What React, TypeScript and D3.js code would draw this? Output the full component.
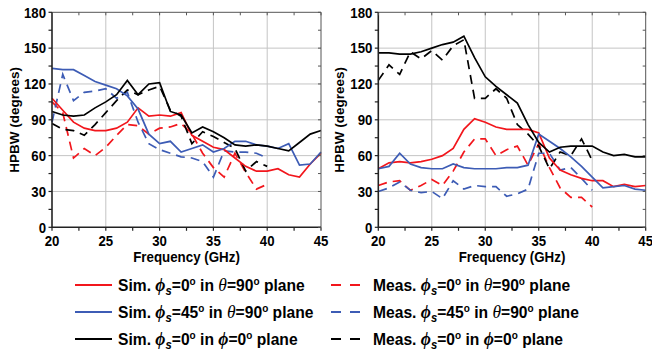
import React from 'react';
import * as d3 from 'd3';

// ---------- data ----------
const FREQ_SIM = [20, 21, 22, 23, 24, 25, 26, 27, 28, 29, 30, 31, 32, 33, 34, 35, 36, 37, 38, 39, 40, 41, 42, 43, 44, 45];
const FREQ_MEAS = [20, 21, 22, 23, 24, 25, 26, 27, 28, 29, 30, 31, 32, 33, 34, 35, 36, 37, 38, 39, 40];

// left panel
const L_SIM_RED = [108, 98, 88, 83, 81, 81, 83, 88, 100, 93, 94, 93, 96, 77, 72, 67, 65, 58, 51, 47, 47, 49, 44, 42, 53, 62];
const L_SIM_BLUE = [133, 132, 132, 127, 122, 119, 116, 110, 99, 78, 70, 72, 63, 66, 69, 63, 66, 72, 72, 69, 68, 66, 70, 52, 53, 63];
const L_SIM_BLACK = [97, 94, 93, 94, 100, 105, 111, 123, 111, 120, 121, 97, 94, 79, 84, 80, 75, 69, 68, 69, 68, 66, 64, 71, 78, 81];
const L_MEAS_RED = [105, 96, 58, 66, 60, 67, 77, 86, 85, 78, 83, 84, 87, 78, 62, 50, 42, 62, 46, 32, 36];
const L_MEAS_BLUE = [88, 128, 106, 113, 114, 116, 108, 113, 88, 70, 65, 62, 59, 58, 55, 42, 64, 63, 63, 62, 58];
const L_MEAS_BLACK = [87, 82, 81, 77, 86, 96, 106, 115, 111, 115, 118, 98, 93, 70, 80, 76, 71, 66, 47, 55, 51];

// right panel
const R_SIM_RED = [49, 54, 55, 54, 55, 57, 60, 66, 82, 91, 88, 84, 82, 82, 82, 79, 58, 48, 44, 41, 39, 39, 34, 36, 34, 35];
const R_SIM_BLUE = [49, 51, 62, 53, 50, 49, 49, 53, 50, 49, 49, 49, 50, 50, 52, 78, 72, 66, 59, 51, 42, 33, 34, 35, 32, 31];
const R_SIM_BLACK = [146, 146, 145, 145, 147, 150, 153, 155, 160, 142, 126, 118, 111, 104, 86, 71, 63, 67, 68, 68, 68, 63, 60, 61, 59, 59];
const R_MEAS_RED = [35, 38, 39, 31, 35, 40, 35, 47, 63, 74, 74, 60, 65, 68, 52, 70, 50, 33, 25, 25, 17];
const R_MEAS_BLUE = [30, 33, 38, 31, 29, 30, 24, 39, 32, 35, 34, 34, 26, 28, 32, 62, 62, 48, 50, 41, 31];
const R_MEAS_BLACK = [123, 136, 128, 147, 141, 148, 140, 152, 157, 108, 108, 116, 108, 86, 78, 68, 49, 63, 60, 74, 56];

const X_TICKS = [20, 25, 30, 35, 40, 45];
const Y_TICKS = [0, 30, 60, 90, 120, 150, 180];
const X_MINOR = [20, 22.5, 25, 27.5, 30, 32.5, 35, 37.5, 40, 42.5, 45];
const Y_MINOR = [0, 15, 30, 45, 60, 75, 90, 105, 120, 135, 150, 165, 180];
const X_LABEL = 'Frequency (GHz)';
const Y_LABEL = 'HPBW (degrees)';

const RED = '#f2161c';
const BLUE = '#3d5cb5';
const BLACK = '#000000';

const TOP = 12.3;
const BOTTOM = 227.3;
const SQ = 0.88; // horizontal squeeze of text
const DASH = '9,6';

type Series = { f: number[]; v: number[]; color: string; dashed: boolean };

function Panel({ left, right, ylabX, series }: { left: number; right: number; ylabX: number; series: Series[] }) {
  const x = d3.scaleLinear().domain([20, 45]).range([left, right]);
  const y = d3.scaleLinear().domain([0, 180]).range([BOTTOM, TOP]);
  const line = d3
    .line<[number, number]>()
    .x((d) => x(d[0]))
    .y((d) => y(d[1]));
  return (
    <g>
      {/* grid */}
      {X_TICKS.slice(1, -1).map((t) => (
        <line key={'gx' + t} x1={x(t)} x2={x(t)} y1={TOP} y2={BOTTOM} stroke="#c4c4c4" strokeWidth={1} />
      ))}
      {Y_TICKS.slice(1, -1).map((t) => (
        <line key={'gy' + t} x1={left} x2={right} y1={y(t)} y2={y(t)} stroke="#c4c4c4" strokeWidth={1} />
      ))}
      {/* series */}
      {series.map((s, i) => (
        <path
          key={i}
          d={line(s.f.map((f, j) => [f, s.v[j]] as [number, number])) || ''}
          fill="none"
          stroke={s.color}
          strokeWidth={1.7}
          strokeDasharray={s.dashed ? DASH : undefined}
          strokeLinejoin="miter"
        />
      ))}
      {/* frame */}
      <line x1={left} x2={right} y1={TOP} y2={TOP} stroke="#555" strokeWidth={1} />
      <line x1={right} x2={right} y1={TOP} y2={BOTTOM} stroke="#555" strokeWidth={1} />
      <line x1={left} x2={left} y1={TOP} y2={BOTTOM + 0.5} stroke="#222" strokeWidth={1.6} />
      <line x1={left} x2={right} y1={BOTTOM} y2={BOTTOM} stroke="#222" strokeWidth={1.6} />
      {/* ticks */}
      {X_MINOR.map((t) => (
        <g key={'tx' + t}>
          <line x1={x(t)} x2={x(t)} y1={BOTTOM} y2={BOTTOM + 3.5} stroke="#222" strokeWidth={1.2} />
          <line x1={x(t)} x2={x(t)} y1={TOP} y2={TOP + 3} stroke="#555" strokeWidth={1} />
        </g>
      ))}
      {Y_MINOR.map((t) => (
        <g key={'ty' + t}>
          <line x1={left - 3.5} x2={left} y1={y(t)} y2={y(t)} stroke="#222" strokeWidth={1.2} />
          <line x1={right - 3} x2={right} y1={y(t)} y2={y(t)} stroke="#555" strokeWidth={1} />
        </g>
      ))}
      {/* tick labels */}
      {X_TICKS.map((t) => (
        <text
          key={'lx' + t}
          transform={`translate(${x(t)},246) scale(${SQ},1)`}
          textAnchor="middle"
          fontSize={15}
          fontWeight="bold"
        >
          {String(t)}
        </text>
      ))}
      {Y_TICKS.map((t) => (
        <text
          key={'ly' + t}
          transform={`translate(${left - 6},${y(t) + 5.3}) scale(${SQ},1)`}
          textAnchor="end"
          fontSize={15}
          fontWeight="bold"
        >
          {String(t)}
        </text>
      ))}
      <text
        transform={`translate(${(left + right) / 2},261.5) scale(0.92,1)`}
        textAnchor="middle"
        fontSize={14.5}
        fontWeight="bold"
      >
        {X_LABEL}
      </text>
      <text
        transform={`translate(${ylabX},${(TOP + BOTTOM) / 2}) scale(${SQ},1) rotate(-90)`}
        textAnchor="middle"
        fontSize={13.5}
        fontWeight="bold"
        dy="0.35em"
      >
        {Y_LABEL}
      </text>
    </g>
  );
}

const GREEK = "'Liberation Serif', 'DejaVu Serif', serif";
const LEG_ROWS = [285, 312, 339];
const LEG_COLORS = [RED, BLUE, BLACK];
const LEG_PHIS = ['0', '45', '0'];
const LEG_PLANE = ['theta', 'theta', 'phi'];

function LegendText({ kind, phiS, plane }: { kind: string; phiS: string; plane: string }) {
  const isTheta = plane === 'theta';
  return (
    <>
      <tspan>{kind + ' '}</tspan>
      <tspan fontFamily={GREEK} fontStyle="italic" fontWeight="bold" fontSize="112%">
        {'\u03D5'}
      </tspan>
      <tspan fontStyle="italic" fontSize="72%" dy={3.5}>
        s
      </tspan>
      <tspan dy={-3.5}>{'=' + phiS}</tspan>
      <tspan fontSize="64%" dy={-6.5}>
        o
      </tspan>
      <tspan dy={6.5}>{' in '}</tspan>
      <tspan
        fontFamily={GREEK}
        fontStyle="italic"
        fontWeight={isTheta ? 'normal' : 'bold'}
        fontSize="112%"
      >
        {isTheta ? '\u03B8' : '\u03D5'}
      </tspan>
      <tspan>{isTheta ? '=90' : '=0'}</tspan>
      <tspan fontSize="64%" dy={-6.5}>
        o
      </tspan>
      <tspan dy={6.5}>{' plane'}</tspan>
    </>
  );
}

function Legend() {
  return (
    <g>
      {LEG_ROWS.map((yy, i) => (
        <g key={i}>
          <line x1={75} x2={112} y1={yy} y2={yy} stroke={LEG_COLORS[i]} strokeWidth={1.8} />
          <text transform={`translate(118,${yy + 6}) scale(0.92,1)`} fontSize={17} fontWeight="bold">
            <LegendText kind="Sim." phiS={LEG_PHIS[i]} plane={LEG_PLANE[i]} />
          </text>
          <line x1={331} x2={360} y1={yy} y2={yy} stroke={LEG_COLORS[i]} strokeWidth={1.8} strokeDasharray="10,9" />
          <text transform={`translate(373,${yy + 6}) scale(0.92,1)`} fontSize={17} fontWeight="bold">
            <LegendText kind="Meas." phiS={LEG_PHIS[i]} plane={LEG_PLANE[i]} />
          </text>
        </g>
      ))}
    </g>
  );
}

export default function App() {
  const leftSeries: Series[] = [
    { f: FREQ_MEAS, v: L_MEAS_RED, color: RED, dashed: true },
    { f: FREQ_MEAS, v: L_MEAS_BLUE, color: BLUE, dashed: true },
    { f: FREQ_MEAS, v: L_MEAS_BLACK, color: BLACK, dashed: true },
    { f: FREQ_SIM, v: L_SIM_RED, color: RED, dashed: false },
    { f: FREQ_SIM, v: L_SIM_BLUE, color: BLUE, dashed: false },
    { f: FREQ_SIM, v: L_SIM_BLACK, color: BLACK, dashed: false },
  ];
  const rightSeries: Series[] = [
    { f: FREQ_MEAS, v: R_MEAS_RED, color: RED, dashed: true },
    { f: FREQ_MEAS, v: R_MEAS_BLUE, color: BLUE, dashed: true },
    { f: FREQ_MEAS, v: R_MEAS_BLACK, color: BLACK, dashed: true },
    { f: FREQ_SIM, v: R_SIM_RED, color: RED, dashed: false },
    { f: FREQ_SIM, v: R_SIM_BLUE, color: BLUE, dashed: false },
    { f: FREQ_SIM, v: R_SIM_BLACK, color: BLACK, dashed: false },
  ];
  return (
    <svg
      width={652}
      height={353}
      style={{ position: 'absolute', left: 0, top: 0, background: '#fff' }}
      fontFamily="'Liberation Sans', Arial, sans-serif"
    >
      <rect width={652} height={353} fill="#fff" />
      <Panel left={52} right={321} ylabX={15} series={leftSeries} />
      <Panel left={378.3} right={645.7} ylabX={340} series={rightSeries} />
      <Legend />
    </svg>
  );
}
